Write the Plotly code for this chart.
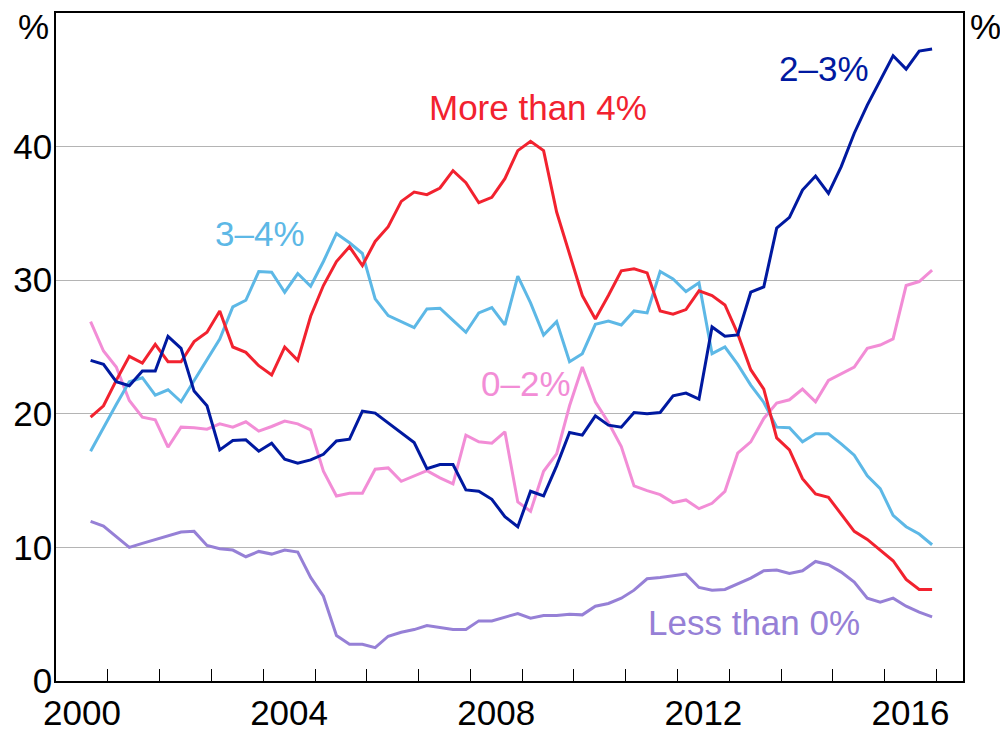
import pandas as pd
import plotly.graph_objects as go

# quarterly observations, Sep 2000 to Dec 2016
dates = pd.date_range("2000-09-01", periods=66, freq="3MS")

less_than_0 = [11.95, 11.6, 10.8, 10.0, 10.3, 10.6, 10.9, 11.15, 11.2, 10.15, 9.9, 9.8, 9.3, 9.7, 9.5, 9.8, 9.65,
               7.75, 6.35, 3.4, 2.75, 2.75, 2.5, 3.35, 3.65, 3.85, 4.15, 4.0, 3.85, 3.85, 4.5, 4.5, 4.75, 5.05, 4.7,
               4.9, 4.9, 5.0, 4.95, 5.6, 5.8, 6.2, 6.8, 7.65, 7.75, 7.85, 8.0, 7.0, 6.8, 6.85, 7.3, 7.7, 8.25,
               8.3, 8.05, 8.25, 8.95, 8.7, 8.15, 7.4, 6.2, 5.9, 6.2, 5.6, 5.15, 4.8]
zero_to_2 = [26.9, 24.7, 23.5, 21.0, 19.75, 19.55, 17.5, 19.0, 18.95, 18.85, 19.25, 19.0, 19.4, 18.7, 19.05, 19.45, 19.25,
             18.8, 15.7, 13.85, 14.05, 14.05, 15.85, 15.95, 14.95, 15.35, 15.75, 15.2, 14.75, 18.4, 17.9, 17.8, 18.65, 13.4, 12.7,
             15.7, 17.0, 20.6, 23.5, 20.9, 19.35, 17.55, 14.6, 14.25, 13.95, 13.35, 13.55, 12.9, 13.3, 14.2, 17.05, 17.9, 19.65,
             20.8, 21.05, 21.85, 20.9, 22.5, 23.0, 23.5, 24.9, 25.15, 25.6, 29.6, 29.9, 30.75]
two_to_3 = [24.0, 23.7, 22.4, 22.1, 23.2, 23.2, 25.8, 24.9, 21.7, 20.6, 17.3, 18.0, 18.05, 17.2, 17.8, 16.6, 16.3,
            16.55, 16.97, 17.97, 18.1, 20.2, 20.05, 19.3, 18.6, 17.85, 15.9, 16.2, 16.2, 14.3, 14.2, 13.6, 12.3, 11.55, 14.2,
            13.85, 16.1, 18.6, 18.4, 19.85, 19.15, 19.0, 20.1, 20.0, 20.1, 21.35, 21.55, 21.1, 26.5, 25.8, 25.9, 29.1, 29.5,
            33.9, 34.7, 36.75, 37.8, 36.5, 38.5, 41.0, 43.1, 44.9, 46.8, 45.8, 47.15, 47.3]
three_to_4 = [17.2, 19.0, 20.7, 22.4, 22.7, 21.4, 21.8, 20.9, 22.5, 24.0, 25.6, 28.0, 28.5, 30.65, 30.6, 29.1, 30.5,
              29.55, 31.4, 33.5, 32.8, 32.0, 28.6, 27.35, 26.9, 26.45, 27.85, 27.9, 27.0, 26.1, 27.55, 27.95, 26.65, 30.3, 28.3,
              25.9, 26.9, 23.9, 24.5, 26.7, 26.95, 26.65, 27.7, 27.55, 30.65, 30.1, 29.15, 29.8, 24.5, 25.0, 23.7, 22.15, 20.85,
              19.0, 18.95, 17.9, 18.5, 18.5, 17.75, 16.9, 15.35, 14.4, 12.4, 11.55, 11.0, 10.2]
more_than_4 = [19.75, 20.6, 22.5, 24.3, 23.8, 25.2, 23.9, 23.9, 25.4, 26.1, 27.7, 25.0, 24.6, 23.6, 22.9, 25.0, 24.0,
               27.3, 29.6, 31.4, 32.5, 31.1, 32.9, 34.0, 35.9, 36.6, 36.4, 36.9, 38.2, 37.3, 35.8, 36.2, 37.6, 39.7, 40.4,
               39.7, 35.1, 31.9, 28.85, 27.1, 28.85, 30.7, 30.85, 30.55, 27.7, 27.45, 27.8, 29.2, 28.85, 28.15, 26.0, 23.3, 21.85,
               18.2, 17.3, 15.15, 14.0, 13.75, 12.5, 11.2, 10.6, 9.8, 9.0, 7.6, 6.85, 6.85]

label_years = [2000, 2004, 2008, 2012, 2016]

font = "Liberation Sans, Arial, sans-serif"
series = [
    ("Less than 0%", less_than_0, "#9680D6"),
    ("0–2%", zero_to_2, "#F28DD6"),
    ("3–4%", three_to_4, "#5DB8E6"),
    ("More than 4%", more_than_4, "#F2222F"),
    ("2–3%", two_to_3, "#0019A0"),
]

fig = go.Figure()
for name, vals, col in series:
    fig.add_trace(go.Scatter(x=dates, y=vals, mode="lines", name=name,
                             line=dict(color=col, width=3)))

# page body has an 8px margin, so the figure is a little smaller than the window
fig.update_layout(
    width=1000, height=722,
    margin=dict(l=47.5, r=45.3, t=5, b=49.3, autoexpand=False),
    paper_bgcolor="white", plot_bgcolor="white",
    showlegend=False,
    font=dict(family=font, size=35, color="black"),
)

fig.update_xaxes(
    range=["2000-01-01", "2017-07-07"],
    tickmode="array",
    tickvals=[f"{y}-07-02" for y in label_years],
    ticktext=[str(y) for y in label_years],
    ticks="",
    showgrid=False,
    automargin=False,
    showline=True, linecolor="black", linewidth=1.5, mirror=True,
    minor=dict(ticks="inside", tickmode="array",
               tickvals=[f"{y}-01-01" for y in range(2001, 2018)],
               ticklen=12, tickwidth=1.3, tickcolor="black", showgrid=False),
    tickfont=dict(size=35),
)

fig.update_yaxes(
    range=[0, 50],
    tickvals=[0, 10, 20, 30, 40],
    ticks="",
    automargin=False,
    ticklabelstandoff=-5,
    showgrid=True, gridcolor="#B4B4B4", gridwidth=1.3,
    zeroline=False,
    showline=True, linecolor="black", linewidth=1.5, mirror=True,
    tickfont=dict(size=35),
)

fig.update_layout(yaxis2=dict(
    overlaying="y", side="right", range=[0, 50], tickvals=[0, 10, 20, 30, 40],
    ticks="", showgrid=False, zeroline=False, showline=False, automargin=False,
    ticklabelstandoff=-5,
    tickfont=dict(size=35),
))

# series labels
labels = [
    ("More than 4%", "2007-03-03", 42.9, "left", "#F2222F"),
    ("3–4%", "2003-01-15", 33.5, "left", "#5DB8E6"),
    ("2–3%", "2013-12-05", 45.85, "left", "#0019A0"),
    ("0–2%", "2008-03-01", 22.25, "left", "#F28DD6"),
    ("Less than 0%", "2015-07-27", 4.4, "right", "#9680D6"),
]
for txt, xd, yv, anc, col in labels:
    fig.add_annotation(x=xd, y=yv, xref="x", yref="y", text=txt, showarrow=False,
                       xanchor=anc, yanchor="middle", font=dict(size=35, color=col))

# unit markers
fig.add_annotation(x=-0.006, y=0.98, xref="paper", yref="paper", text="%", showarrow=False,
                   xanchor="right", yanchor="middle", font=dict(size=35))
fig.add_annotation(x=1.005, y=0.98, xref="paper", yref="paper", text="%", showarrow=False,
                   xanchor="left", yanchor="middle", font=dict(size=35))

# title line sits above the visible area; only its descenders show
fig.add_annotation(x=0.1097, y=1.0045, xref="paper", yref="paper",
                   text="Share of jobs with a price change in range", showarrow=False,
                   xanchor="left", yanchor="bottom", font=dict(size=36))

fig.write_html("out.html")
